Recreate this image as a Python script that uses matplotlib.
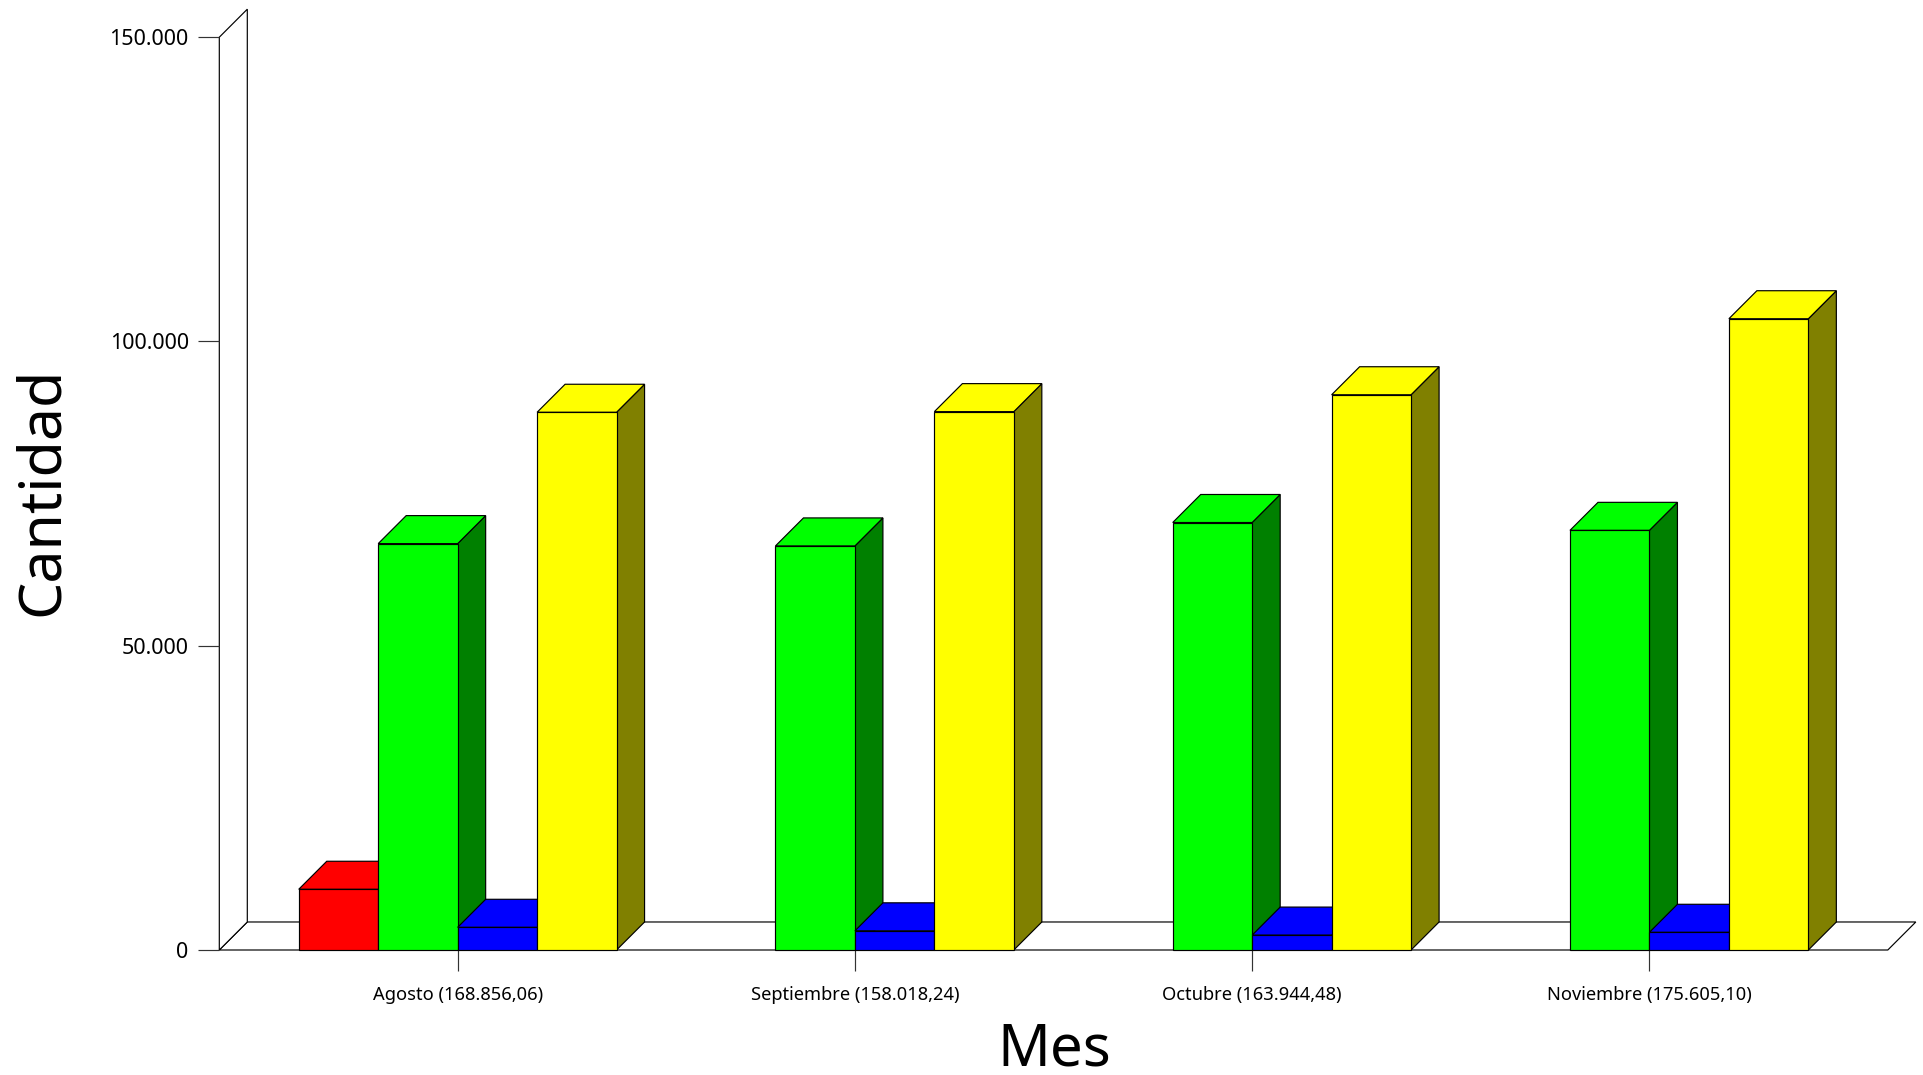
import matplotlib
matplotlib.use("Agg")
import matplotlib.pyplot as plt
from matplotlib.patches import Polygon
import numpy as np

# values
meses = ["Agosto (168.856,06)", "Septiembre (158.018,24)", "Octubre (163.944,48)", "Noviembre (175.605,10)"]
rojo = [9980, 0, 0, 0]
verde = [66780, 66400, 70250, 68960]
azul = [3730, 3150, 2450, 2910]
amarillo = [88366, 88468, 91244, 103735]
y_ticks = [0, 50000, 100000, 150000]
y_labels = ["0", "50.000", "100.000", "150.000"]

plt.rcParams['font.family'] = ['Noto Sans', 'DejaVu Sans']

W, H = 1923, 1075
fig = plt.figure(figsize=(W/100, H/100), dpi=100)
ax = fig.add_axes([219.3/W, (H-950)/H, (1888-219.5)/W, (950-37.2)/H])
ax.set_xlim(-0.6, 3.6)
ax.set_ylim(0, 150000)

lw = 0.85
# depth of the fake 3d in data units
dx = 28/(1668.5/4.2)
dy = 28/(912.3/150000)
ancho = 0.2

for s in ax.spines.values():
    s.set_visible(False)
ax.patch.set_visible(False)

# floor and wall
x0, x1 = ax.get_xlim()
ax.add_patch(Polygon([(x0, 0), (x1, 0), (x1+dx, dy), (x0+dx, dy)], closed=True, fc="white", ec="black", lw=lw, clip_on=False, zorder=1))
ax.add_patch(Polygon([(x0, 0), (x0+dx, dy), (x0+dx, 150000+dy), (x0, 150000)], closed=True, fc="white", ec="black", lw=lw, clip_on=False, zorder=1))

series = [(rojo, "#ff0000", "#800000", -1.5), (verde, "#00ff00", "#008000", -0.5),
          (azul, "#0000ff", "#000080", 0.5), (amarillo, "#ffff00", "#808000", 1.5)]
z = 2
for i in range(len(meses)):
    for vals, col, oscuro, off in series:
        v = vals[i]
        if v == 0:
            continue
        l = i + off*ancho - ancho/2
        r = l + ancho
        ax.add_patch(Polygon([(r, 0), (r+dx, dy), (r+dx, v+dy), (r, v)], closed=True, fc=oscuro, ec="black", lw=lw, clip_on=False, zorder=z))
        ax.add_patch(Polygon([(l, v), (r, v), (r+dx, v+dy), (l+dx, v+dy)], closed=True, fc=col, ec="black", lw=lw, clip_on=False, zorder=z))
        ax.bar(l, v, ancho, align="edge", color=col, edgecolor="black", lw=lw, clip_on=False, zorder=z)
        z += 1

ax.set_xticks(range(len(meses)))
ax.set_xticklabels(meses, fontsize=13.2)
ax.set_yticks(y_ticks)
ax.set_yticklabels(y_labels, fontsize=15.5)
ax.tick_params(axis="both", length=15, width=lw, color="#333333")
ax.tick_params(axis="x", pad=11)
ax.tick_params(axis="y", pad=7)

fig.text(1054/W, 1-1050/H, "Mes", fontsize=42, ha="center", va="center")
fig.text(42/W, 1-491/H, "Cantidad", fontsize=42.5, rotation=90, ha="center", va="center")

fig.savefig("out.png", dpi=100)
